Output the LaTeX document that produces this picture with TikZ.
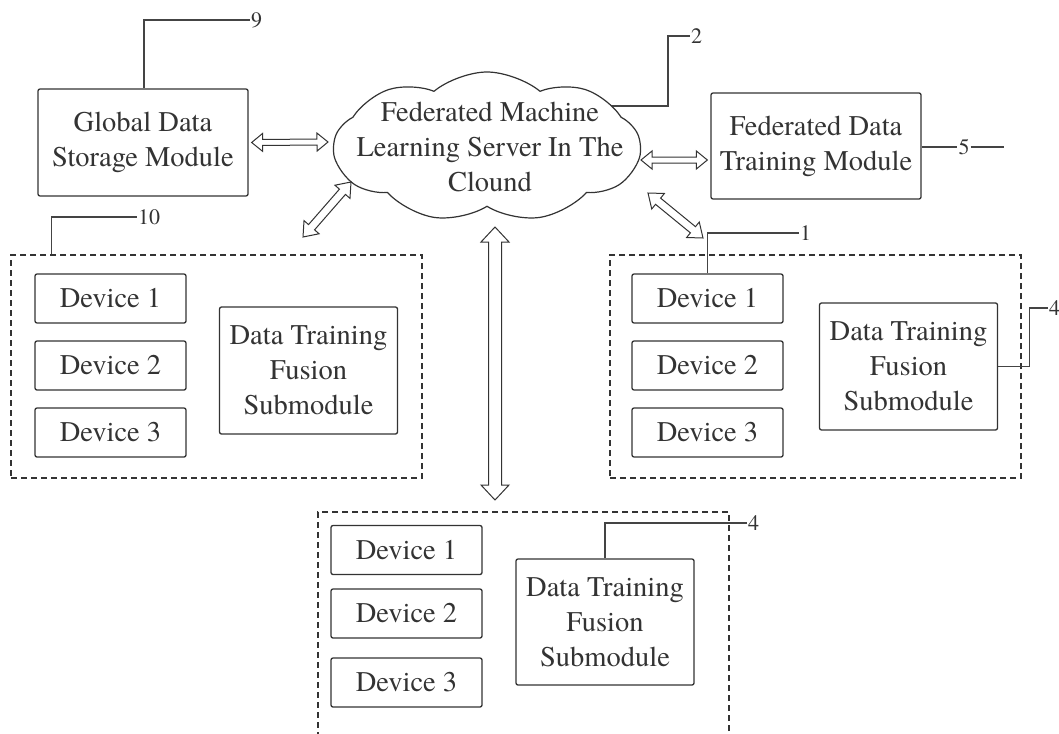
\documentclass[tikz,border=0pt]{standalone}
\usepackage{fontspec}
\setmainfont{TeX Gyre Termes}
\usetikzlibrary{shapes.symbols,calc}

\definecolor{ink}{HTML}{333333}
\definecolor{leadcol}{HTML}{444444}

% hollow double-headed block arrow:
% #1 start, #2 end, #3 head half-width, #4 shaft half-width, #5 head length
\newcommand\hollowarrow[5]{%
  \path[dblarrow] let \p1=(#1), \p2=(#2), \n1={atan2(\y2-\y1,\x2-\x1)} in
    (\p1)
    -- ($(\p1)+(\n1:#5)+(\n1+90:#3)$)
    -- ($(\p1)+(\n1:#5)+(\n1+90:#4)$)
    -- ($(\p2)+(\n1+180:#5)+(\n1+90:#4)$)
    -- ($(\p2)+(\n1+180:#5)+(\n1+90:#3)$)
    -- (\p2)
    -- ($(\p2)+(\n1+180:#5)+(\n1-90:#3)$)
    -- ($(\p2)+(\n1+180:#5)+(\n1-90:#4)$)
    -- ($(\p1)+(\n1:#5)+(\n1-90:#4)$)
    -- ($(\p1)+(\n1:#5)+(\n1-90:#3)$)
    -- cycle;}

\begin{document}
\begin{tikzpicture}[x=1pt,y=-1pt,
  font=\fontsize{28.5}{35}\selectfont, text=ink,
  box/.style={draw=ink, line width=1.3pt, rounded corners=2pt, align=center, inner sep=0pt},
  devbox/.style={box, minimum width=151pt, minimum height=49pt},
  fusebox/.style={box, minimum width=178pt, minimum height=127pt},
  panel/.style={draw=ink, line width=1.2pt, dash pattern=on 6pt off 4pt, minimum width=411pt, inner sep=0pt},
  leader/.style={draw=leadcol, line width=1.1pt},
  lbl/.style={font=\fontsize{22}{26}\selectfont, inner sep=1pt, anchor=west},
  dblarrow/.style={draw=ink, line width=1pt, fill=white, line join=miter}]

\useasboundingbox (0,0) rectangle (1059,733);

% numeral 2 leads into the cloud, which is painted over it
\coordinate (c2) at (600,106);
\node[lbl] (n2) at (690,36) {2};
\draw[leader] (c2) -- ++(68,0) |- (n2.west);

% top row: storage module, cloud server, training module
\node[box, minimum width=210pt, minimum height=107pt] (gds) at (143,142.5) {Global Data\\Storage Module};
\node[cloud, draw=ink, fill=white, line width=1.2pt, cloud puffs=9, cloud puff arc=80, aspect=2,
      minimum width=306pt, minimum height=150pt, inner sep=0pt] (srv) at (487,147) {};
\node[align=center, inner sep=0pt] (srvtxt) at (490,147) {Federated Machine\\Learning Server In The\\Clound};
\node[box, minimum width=210pt, minimum height=106pt] (fdt) at (816,146) {Federated Data\\Training Module};

% left client group
\node[panel, minimum height=223pt] (lp) at (216.5,366.5) {};
\node[devbox] (ld1) at (110.5,298.5) {Device 1};
\node[devbox] (ld2) at (110.5,365.5) {Device 2};
\node[devbox] (ld3) at (110.5,432.5) {Device 3};
\node[fusebox] (ldt) at (308.5,370.5) {Data Training\\Fusion\\Submodule};

% right client group
\node[panel, minimum height=223pt] (rp) at (815.5,366.5) {};
\node[devbox] (rd1) at (707.5,298.5) {Device 1};
\node[devbox] (rd2) at (707.5,365.5) {Device 2};
\node[devbox] (rd3) at (707.5,432.5) {Device 3};
\node[fusebox] (rdt) at (908.5,366.5) {Data Training\\Fusion\\Submodule};

% bottom client group
\node[panel, minimum height=268pt] (bp) at (523.5,646) {};
\node[devbox] (bd1) at (406.5,550) {Device 1};
\node[devbox] (bd2) at (406.5,613.5) {Device 2};
\node[devbox] (bd3) at (406.5,682.5) {Device 3};
\node[fusebox, minimum height=126pt] (bdt) at (605,622) {Data Training\\Fusion\\Submodule};

% arrow end points on the cloud outline
\coordinate (sw) at (328,142);
\coordinate (se) at (641,160);
\coordinate (snw) at (351,182);
\coordinate (sne) at (648,193);
\coordinate (ss) at (495,227);
\coordinate (lpe) at (303,237);
\coordinate (rpe) at (703,238);
\coordinate (bpe) at (495,500);

\hollowarrow{[xshift=3pt]gds.east}{sw}{9pt}{3pt}{11pt}
\hollowarrow{se}{[xshift=-3pt,yshift=-14pt]fdt.west}{9pt}{3pt}{11pt}
\hollowarrow{lpe}{snw}{10pt}{4pt}{13pt}
\hollowarrow{sne}{rpe}{10pt}{4pt}{13pt}
\hollowarrow{ss}{bpe}{14pt}{6.5pt}{15pt}

% reference numerals
\node[lbl] (n9) at (250,20) {9};
\draw[leader] ([xshift=1pt]gds.north) |- (n9.west);

\node[lbl, anchor=center] (n5) at (964,147) {5};
\draw[leader] (fdt.east |- n5.west) -- (n5.west);
\draw[leader] (n5.east) -- ++(33,0);

\node[lbl] (n10) at (137,217) {10};
\draw[leader] ([xshift=41pt]lp.north west) |- (n10.west);

\node[lbl] (n1) at (799,233) {1};
\draw[leader] (rd1.north) |- (n1.west);

\node[lbl] (n4r) at (1048,308) {4};
\draw[leader] (rdt.east) -- ++(31,0) |- (n4r.west);

\node[lbl] (n4b) at (747,523) {4};
\draw[leader] (bdt.north) |- (n4b.west);

\end{tikzpicture}
\end{document}
